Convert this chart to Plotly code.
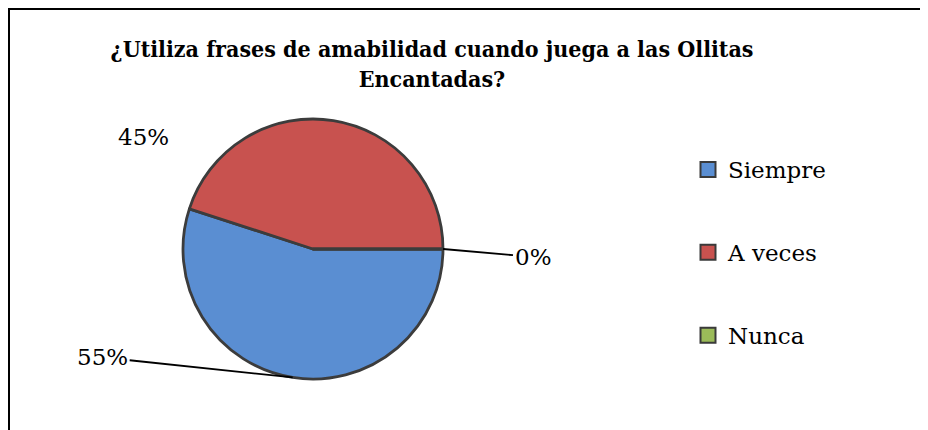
import math
import plotly.graph_objects as go

# ---- data ----
categories = ["Siempre", "A veces", "Nunca"]
values = [55, 45, 0]
colors = ["#5A8ED2", "#C8524F", "#9BBB59"]
title_text = "¿Utiliza frases de amabilidad cuando juega a las Ollitas<br>Encantadas?"

W, H = 928, 430
OFF = 8  # page body margin in the browser
FONT_TITLE = "DejaVu Serif Condensed"
FONT = "DejaVu Serif"


def fx(px):
    return (px - OFF) / W


def fy(py):
    return 1 - (py - OFF) / H


# pie placement (reference pixels)
cx_px, cy_px, r_px = 313, 249, 130
dom_x = [fx(cx_px - r_px), fx(cx_px + r_px)]
dom_y = [fy(cy_px + r_px), fy(cy_px - r_px)]

fig = go.Figure()
fig.add_trace(go.Pie(
    labels=categories, values=values,
    marker=dict(colors=colors, line=dict(color="#3C3C3C", width=2.8)),
    sort=False, direction="clockwise", rotation=90,
    textinfo="none", hoverinfo="label+percent",
    showlegend=False,
    domain=dict(x=dom_x, y=dom_y),
))

for i, (lab, col) in enumerate(zip(categories, colors)):
    fig.add_trace(go.Scatter(
        x=[None], y=[None], mode="markers", name=lab,
        legendgroup=f"g{i}",
        marker=dict(symbol="square", size=15, color=col,
                    line=dict(color="#3A3A3A", width=2)),
    ))

total = sum(values)
offsets = [(-190, -20), (-190, 16), (90, 8)]
arrows = [True, False, True]
start = 0.0
for v, (ox, oy), show in zip(values, offsets, arrows):
    span = 360.0 * v / total
    mid = math.radians(start + span / 2)
    start += span
    px = cx_px + r_px * math.cos(mid)
    py = cy_px + r_px * math.sin(mid)
    fig.add_annotation(
        x=fx(px), y=fy(py), xref="paper", yref="paper",
        text=f"{round(100 * v / total)}%",
        showarrow=True, arrowhead=0, arrowwidth=1.8,
        arrowcolor="black" if show else "rgba(0,0,0,0)",
        ax=ox, ay=oy, standoff=0,
        font=dict(family=FONT, size=23, color="black"),
    )

fig.add_shape(type="rect", xref="paper", yref="paper",
              x0=fx(9), x1=1.02, y0=-0.03, y1=fy(9),
              line=dict(color="black", width=2))

fig.update_layout(
    width=W, height=H,
    margin=dict(l=0, r=0, t=0, b=0),
    paper_bgcolor="white", plot_bgcolor="white",
    title=dict(text=title_text, x=fx(432), xanchor="center", y=fy(57), yanchor="top",
               font=dict(family=FONT_TITLE, size=23, color="black", weight="bold")),
    xaxis=dict(visible=False), yaxis=dict(visible=False),
    legend=dict(x=fx(688), y=fy(148), xanchor="left", yanchor="top",
                font=dict(family=FONT, size=23, color="black"),
                tracegroupgap=50, itemwidth=30, bgcolor="rgba(0,0,0,0)"),
)

fig.write_html("out.html")
